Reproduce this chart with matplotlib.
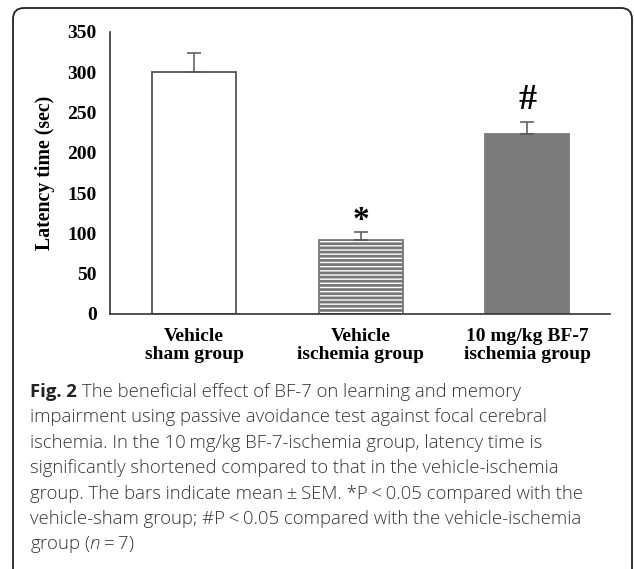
import matplotlib
matplotlib.use("Agg")
import matplotlib.pyplot as plt
from matplotlib.patches import FancyBboxPatch

# data
groups = ["Vehicle\nsham group", "Vehicle\nischemia group", "10 mg/kg BF-7\nischemia group"]
latency = [300, 92, 224]
sem = [24, 10, 14]
marks = ["", "*", "#"]
yticks = [0, 50, 100, 150, 200, 250, 300, 350]

caption_head = "Fig. 2"
caption_lines = [
    "The beneficial effect of BF-7 on learning and memory",
    "impairment using passive avoidance test against focal cerebral",
    "ischemia. In the 10\u2009mg/kg BF-7-ischemia group, latency time is",
    "significantly shortened compared to that in the vehicle-ischemia",
    "group. The bars indicate mean\u2009\u00b1\u2009SEM. *P\u2009<\u20090.05 compared with the",
    "vehicle-sham group; #P\u2009<\u20090.05 compared with the vehicle-ischemia",
    "group ($\\mathit{n}$\u2009=\u20097)",
]

W, H = 634, 569
fig = plt.figure(figsize=(W / 100, H / 100), dpi=100)

# rounded frame around the panel (inches, so corners stay round)
frame = FancyBboxPatch((0.13, -0.4), 6.19, 5.61 + 0.4,
                       boxstyle="round,pad=0,rounding_size=0.11",
                       transform=fig.dpi_scale_trans, fill=False,
                       edgecolor="#222222", linewidth=1.3)
fig.patches.append(frame)

ax = fig.add_axes([110 / W, 1 - 314 / H, 500 / W, 282 / H])
serif = "Liberation Serif"
grey = "#555555"

plt.rcParams["hatch.linewidth"] = 2.0
plt.rcParams["hatch.color"] = "#777777"
plt.rcParams["mathtext.fontset"] = "custom"
plt.rcParams["mathtext.it"] = "Open Sans:italic:light"

x = range(len(groups))
fills = ["white", "white", "#7b7b7b"]
edges = [grey, "#777777", "#7b7b7b"]
hatches = [None, "----", None]
for i in x:
    ax.bar(i, latency[i], width=0.504, color=fills[i], edgecolor=edges[i],
           linewidth=1.3, hatch=hatches[i], zorder=2)
    ax.errorbar(i, latency[i], yerr=[[0], [sem[i]]], fmt="none",
                ecolor=grey, elinewidth=1.1, capsize=5, capthick=1.1, zorder=3)

ax.text(1, latency[1] + sem[1] + 14, marks[1], ha="center", va="center",
        fontsize=24, family=serif, fontweight="bold")
ax.text(2, latency[2] + sem[2] + 27, marks[2], ha="center", va="center",
        fontsize=26, family=serif, fontweight="bold")

ax.set_xlim(-0.504, 2.495)
ax.set_ylim(0, 350)
ax.set_yticks(yticks)
ax.set_xticks(list(x))
ax.set_xticklabels(groups, family=serif, fontweight="bold", fontsize=14,
                   linespacing=1.05)
ax.tick_params(axis="x", length=0, pad=10)
ax.tick_params(axis="y", length=0, pad=9.5)
for lab in ax.get_yticklabels():
    lab.set_family(serif)
    lab.set_fontweight("bold")
    lab.set_fontsize(14)
ax.set_ylabel("Latency time (sec)", family=serif, fontweight="bold",
              fontsize=14.3, labelpad=9)
for s in ["top", "right"]:
    ax.spines[s].set_visible(False)
for s in ["left", "bottom"]:
    ax.spines[s].set_color("#333333")
    ax.spines[s].set_linewidth(1.2)

# caption
cap_font = "Open Sans"
cap_size = 13.3
y0 = 1 - 392 / H
step = 25.4 / H
head = fig.text(30 / W, y0, caption_head, family=cap_font, fontweight="bold",
                fontsize=cap_size, va="center", color="#222222")
fig.canvas.draw()
bb = head.get_window_extent()
fig.text((bb.x1 + 5) / W, y0, caption_lines[0], family=cap_font,
         fontweight="light", fontsize=cap_size, va="center", color="#333333")
for k, line in enumerate(caption_lines[1:], start=1):
    fig.text(30 / W, y0 - k * step, line, family=cap_font, fontweight="light",
             fontsize=cap_size, va="center", color="#333333")

fig.savefig("out.png", dpi=100)
